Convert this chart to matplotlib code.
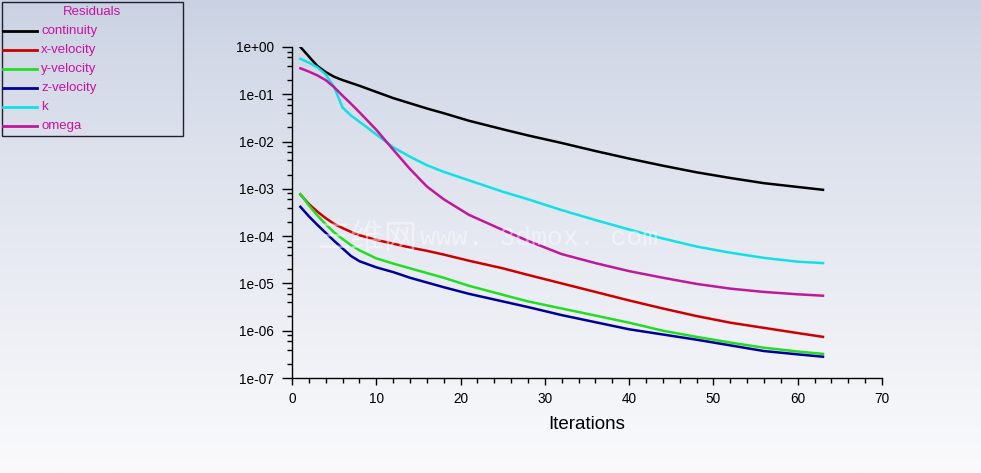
import numpy as np
import matplotlib
matplotlib.use('Agg')
import matplotlib.pyplot as plt
from matplotlib.lines import Line2D
from matplotlib.patches import Rectangle
from matplotlib.ticker import LogLocator, MultipleLocator, FixedLocator

iters = [1, 2, 3, 4, 5, 6, 7, 8, 10, 12, 14, 16, 18, 21, 25, 28, 32, 36, 40, 44, 48, 52, 56, 60, 63]

continuity_log = [0.00, -0.20, -0.40, -0.53, -0.63, -0.70, -0.76, -0.82, -0.95, -1.08, -1.19, -1.30, -1.40,
                  -1.56, -1.74, -1.87, -2.03, -2.20, -2.36, -2.51, -2.65, -2.77, -2.88, -2.96, -3.02]
xvel_log = [-3.12, -3.32, -3.48, -3.62, -3.74, -3.83, -3.91, -3.98, -4.08, -4.16, -4.24, -4.31, -4.39,
            -4.52, -4.68, -4.82, -5.00, -5.18, -5.36, -5.53, -5.69, -5.83, -5.94, -6.05, -6.13]
yvel_log = [-3.11, -3.35, -3.56, -3.75, -3.92, -4.06, -4.19, -4.30, -4.47, -4.58, -4.68, -4.78, -4.88,
            -5.05, -5.24, -5.38, -5.53, -5.68, -5.83, -6.00, -6.13, -6.25, -6.36, -6.44, -6.49]
zvel_log = [-3.38, -3.58, -3.76, -3.93, -4.10, -4.26, -4.42, -4.53, -4.66, -4.76, -4.88, -4.98, -5.08,
            -5.22, -5.38, -5.50, -5.67, -5.82, -5.97, -6.08, -6.19, -6.31, -6.43, -6.50, -6.55]
k_log = [-0.25, -0.33, -0.43, -0.58, -0.85, -1.28, -1.45, -1.58, -1.85, -2.12, -2.32, -2.50, -2.64,
         -2.82, -3.06, -3.22, -3.45, -3.66, -3.86, -4.05, -4.22, -4.35, -4.46, -4.54, -4.57]
omega_log = [-0.45, -0.52, -0.60, -0.70, -0.85, -1.03, -1.20, -1.38, -1.75, -2.17, -2.58, -2.95, -3.22,
             -3.55, -3.87, -4.10, -4.38, -4.57, -4.74, -4.88, -5.01, -5.11, -5.18, -5.23, -5.26]

names = ['continuity', 'x-velocity', 'y-velocity', 'z-velocity', 'k', 'omega']
series = [continuity_log, xvel_log, yvel_log, zvel_log, k_log, omega_log]
colors = ['#000000', '#cc0000', '#22dd22', '#000099', '#11e0e6', '#c0189a']
ytick_labels = ['1e-07', '1e-06', '1e-05', '1e-04', '1e-03', '1e-02', '1e-01', '1e+00']

TXT = '#c8139f'
FONT = 'Liberation Sans'

# ── Figure ────────────────────────────────────────────────────────────────────
fig = plt.figure(figsize=(9.81, 4.73), dpi=100)

# background gradient, blue-grey at top fading to near white
bg = fig.add_axes([0, 0, 1, 1], zorder=-10)
grad = np.linspace(0, 1, 256).reshape(-1, 1)
top = np.array([201, 209, 226]) / 255
bot = np.array([250, 250, 252]) / 255
img = top + (bot - top) * grad[..., None] ** 0.8
bg.imshow(img, aspect='auto', extent=[0, 1, 0, 1], origin='upper')
bg.set_axis_off()

ax = fig.add_axes([292 / 981, 1 - 378 / 473, 590 / 981, 331 / 473])
ax.patch.set_alpha(0)

for name, vals, c in zip(names, series, colors):
    ax.plot(iters, np.power(10.0, vals), color=c, lw=1.8, label=name)

ax.set_yscale('log')
ax.set_xlim(0, 70)
ax.set_ylim(1e-7, 1e0)

ax.xaxis.set_major_locator(MultipleLocator(10))
ax.xaxis.set_minor_locator(MultipleLocator(2))
ax.yaxis.set_major_locator(FixedLocator([10.0 ** e for e in range(-7, 1)]))
ax.set_yticklabels(ytick_labels)
ax.yaxis.set_minor_locator(LogLocator(base=10, subs=(0.2, 0.4, 0.6, 0.8)))
ax.yaxis.set_minor_formatter(plt.NullFormatter())

ax.spines['top'].set_visible(False)
ax.spines['right'].set_visible(False)
for s in ('left', 'bottom'):
    ax.spines[s].set_linewidth(1.0)

ax.tick_params(which='major', direction='out', length=7, width=1, labelsize=9.8, pad=6)
ax.tick_params(which='minor', direction='out', length=3.5, width=1)
for lab in ax.get_xticklabels() + ax.get_yticklabels():
    lab.set_family(FONT)
ax.tick_params(axis='x', which='major', length=5, pad=5)

ax.set_xlabel('Iterations', fontsize=13.5, family=FONT, labelpad=7)

# watermark
fig.text(318 / 981, 1 - 238 / 473, '三维网', color='white', alpha=0.45, fontsize=24,
         family=['Noto Sans CJK SC', 'DejaVu Sans'], va='center', ha='left')
fig.text(420 / 981, 1 - 238 / 473, 'www. 3dmox. com', color='white', alpha=0.45, fontsize=19,
         family='Liberation Mono', va='center', ha='left')

# legend box, top-left corner of the window
W, H = 981, 473
fig.add_artist(Rectangle((2 / W, 1 - 136 / H), 181 / W, 134 / H, transform=fig.transFigure,
                         facecolor='none', edgecolor='#202030', lw=1.0))
fig.text(92 / W, 1 - 12 / H, 'Residuals', color=TXT, fontsize=9.5, family=FONT, ha='center', va='center')
for i, (name, c) in enumerate(zip(names, colors)):
    yy = 1 - (31 + 19 * i) / H
    fig.add_artist(Line2D([3 / W, 37 / W], [yy, yy], transform=fig.transFigure, color=c, lw=2))
    fig.text(41 / W, yy, name, color=TXT, fontsize=9.5, family=FONT, ha='left', va='center')

fig.savefig('out.png', dpi=100)
